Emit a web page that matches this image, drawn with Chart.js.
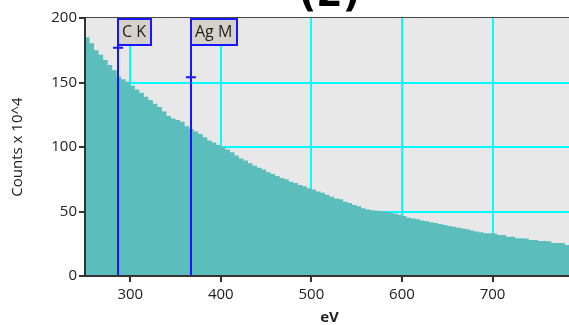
<!DOCTYPE html>
<html>
<head>
<meta charset="utf-8">
<script src="https://cdn.jsdelivr.net/npm/chart.js@4/dist/chart.umd.min.js"></script>
<style>
  html, body { margin: 0; padding: 0; background: #fff; overflow: hidden; width: 569px; height: 325px; }
  #wrap { position: absolute; left: 0; top: -30px; width: 574px; height: 355px; }
</style>
</head>
<body>
<div id="wrap"><canvas id="c"></canvas></div>
<script>
// Spectrum bins: start energy of each 5 eV channel and its counts (x 10^4)
const binWidthEv = 5;
const energies = [
  250, 255, 260, 265, 270, 275, 280, 285, 290, 295,
  300, 305, 310, 315, 320, 325, 330, 335, 340, 345,
  350, 355, 360, 365, 370, 375, 380, 385, 390, 395,
  400, 405, 410, 415, 420, 425, 430, 435, 440, 445,
  450, 455, 460, 465, 470, 475, 480, 485, 490, 495,
  500, 505, 510, 515, 520, 525, 530, 535, 540, 545,
  550, 555, 560, 565, 570, 575, 580, 585, 590, 595,
  600, 605, 610, 615, 620, 625, 630, 635, 640, 645,
  650, 655, 660, 665, 670, 675, 680, 685, 690, 695,
  700, 705, 710, 715, 720, 725, 730, 735, 740, 745,
  750, 755, 760, 765, 770, 775, 780
];
const counts = [
  185, 180.5, 175, 171.5, 167.5, 163.5, 159.5, 154.5, 152.5, 150.5,
  147.5, 144.5, 142, 139, 136.5, 133.5, 131, 127.5, 124, 122,
  121, 119.5, 116, 114, 112, 110, 107.5, 105, 103.5, 101.5,
  100, 98, 96, 93.5, 91, 89.5, 87.5, 85.5, 84, 82.5,
  80.5, 79, 77.5, 76, 75, 73, 72, 70.5, 69.5, 68,
  67, 65.5, 64.5, 63, 61.5, 60, 59.5, 57.5, 56.5, 55,
  54, 52.5, 51.5, 51, 50.5, 50.2, 50, 49.5, 48.5, 47.5,
  46.5, 45.2, 44.5, 44, 43, 42.5, 41.6, 41, 40.3, 39.5,
  38.8, 38.2, 37.5, 36.8, 36.2, 35.2, 34.5, 34, 33.2, 33.1,
  33, 31.8, 31.8, 30.5, 30.5, 29.2, 29.2, 29.1, 27.9, 27.9,
  27.1, 27.1, 27, 25.6, 25.6, 25.5, 24
];

// Element line markers
const markerLabels = ['C K', 'Ag M'];
const markerEnergies = [286.5, 367];
const markerHeights = [177, 154];

// Axis ticks
const xTickValues = [300, 400, 500, 600, 700];
const yTickValues = [0, 50, 100, 150, 200];

const FONT = '"Open Sans", "DejaVu Sans", sans-serif';
const MARKER_BLUE = '#1616ff';
const GRID_CYAN = '#00ffff';
const FILL_TEAL = '#5cbdbd';

// stepped outline: each point opens its bin, the last bin is closed at its upper edge
const histogram = energies.map((e, i) => ({ x: e, y: counts[i] }));
histogram.push({ x: energies[energies.length - 1] + binWidthEv, y: counts[counts.length - 1] });

const plotFrame = {
  id: 'plotFrame',
  beforeDraw(chart) {
    const { ctx, chartArea: a } = chart;
    ctx.save();
    ctx.fillStyle = '#e8e8e8';
    ctx.fillRect(a.left, a.top, a.right - a.left, a.bottom - a.top);
    ctx.restore();
  },
  // label boxes sit under the peak crosses
  beforeDatasetsDraw(chart) {
    const { ctx, chartArea: a, scales: { x } } = chart;
    ctx.save();
    ctx.font = '16px ' + FONT;
    markerLabels.forEach((label, i) => {
      const px = Math.round(x.getPixelForValue(markerEnergies[i]));
      const w = Math.round(ctx.measureText(label).width + 9);
      const top = a.top + 1, h = 26;
      ctx.fillStyle = '#d6d2ca';
      ctx.fillRect(px, top, w, h);
      ctx.strokeStyle = MARKER_BLUE;
      ctx.lineWidth = 2;
      ctx.strokeRect(px, top, w, h);
      ctx.fillStyle = '#1e1e1e';
      ctx.textBaseline = 'middle';
      ctx.textAlign = 'left';
      ctx.fillText(label, px + 4, top + h / 2 + 0.5);
    });
    ctx.restore();
  },
  // marker lines run over the spectrum
  afterDatasetsDraw(chart) {
    const { ctx, chartArea: a, scales: { x } } = chart;
    ctx.save();
    ctx.strokeStyle = '#4a4a4a';
    ctx.lineWidth = 1;
    ctx.beginPath();
    ctx.moveTo(a.left, a.top - 0.5);
    ctx.lineTo(a.right, a.top - 0.5);
    ctx.stroke();

    ctx.strokeStyle = MARKER_BLUE;
    ctx.lineWidth = 2;
    markerEnergies.forEach(e => {
      const px = Math.round(x.getPixelForValue(e));
      ctx.beginPath();
      ctx.moveTo(px, a.top + 1);
      ctx.lineTo(px, a.bottom);
      ctx.stroke();
    });
    ctx.restore();
  }
};

new Chart(document.getElementById('c'), {
  type: 'line',
  data: {
    datasets: [
      {
        type: 'scatter',
        data: markerEnergies.map((e, i) => ({ x: e, y: markerHeights[i] })),
        pointStyle: 'cross',
        pointRadius: 5,
        pointBorderWidth: 2,
        borderColor: MARKER_BLUE,
        backgroundColor: MARKER_BLUE
      },
      {
        data: histogram,
        stepped: true,
        fill: 'origin',
        backgroundColor: FILL_TEAL,
        borderColor: 'rgba(0,0,0,0)',
        borderWidth: 1,
        pointRadius: 0
      }
    ]
  },
  options: {
    responsive: true,
    maintainAspectRatio: false,
    devicePixelRatio: 1,
    animation: false,
    events: [],
    layout: { padding: 0, autoPadding: false },
    plugins: {
      legend: { display: false },
      tooltip: { enabled: false },
      title: {
        display: true,
        text: '(2)',
        fullSize: false,
        color: '#000',
        font: { family: '"DejaVu Sans", sans-serif', size: 38, weight: 'bold', lineHeight: 1 },
        padding: { top: 7, bottom: 3 }
      }
    },
    scales: {
      x: {
        type: 'linear',
        min: 250,
        max: 790,
        afterBuildTicks: s => { s.ticks = xTickValues.map(v => ({ value: v })); },
        afterFit: s => { s.height = 49; },
        grid: { color: GRID_CYAN, lineWidth: 2, tickColor: '#333', tickLength: 6 },
        border: { color: '#333', width: 2, z: 1 },
        ticks: { font: { family: FONT, size: 15 }, color: '#222', padding: 4, maxRotation: 0, autoSkip: false },
        title: {
          display: true,
          text: 'eV',
          color: '#222',
          font: { family: FONT, size: 15, weight: 'bold', lineHeight: 1 },
          padding: 0
        }
      },
      y: {
        min: 0,
        max: 200,
        afterBuildTicks: s => { s.ticks = yTickValues.map(v => ({ value: v })); },
        afterFit: s => { s.width = 85; },
        grid: {
          color: c => (c.tick && (c.tick.value === 0 || c.tick.value === 200)) ? 'rgba(0,0,0,0)' : GRID_CYAN,
          lineWidth: 2,
          tickColor: '#333',
          tickLength: 6
        },
        border: { color: '#333', width: 2, z: 1 },
        ticks: { font: { family: FONT, size: 15 }, color: '#222', padding: 2 },
        title: {
          display: true,
          text: 'Counts x 10^4',
          color: '#222',
          font: { family: FONT, size: 15, lineHeight: 1.2 },
          padding: { top: 9, bottom: 0 }
        }
      }
    }
  },
  plugins: [plotFrame]
});
</script>
</body>
</html>
